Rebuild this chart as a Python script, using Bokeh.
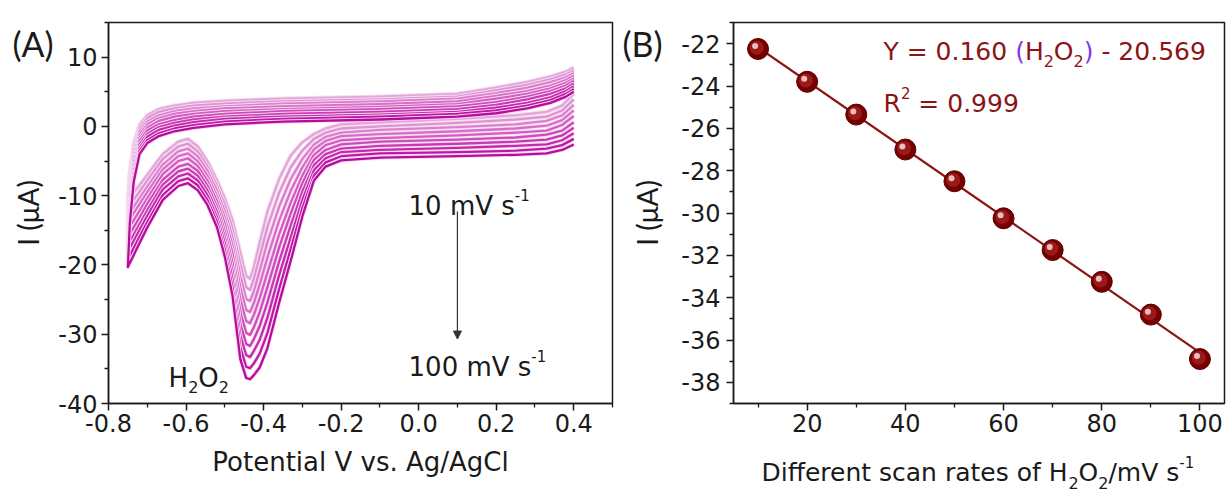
import numpy as np
from bokeh.plotting import figure
from bokeh.models import (Range1d, FixedTicker, PrintfTickFormatter, Label, Arrow,
                          NormalHead, ColumnDataSource)
from bokeh.layouts import row, column
from bokeh.transform import dodge
from bokeh.embed import file_html
from bokeh.resources import INLINE

# ---------------- data: panel A (cyclic voltammograms) ----------------
potential = [0.40, 0.37, 0.33, 0.25, 0.10, -0.10, -0.20, -0.24, -0.27, -0.30, -0.33, -0.36,
             -0.39, -0.41, -0.425, -0.435, -0.445, -0.46, -0.48, -0.50, -0.52, -0.545, -0.57,
             -0.595, -0.62, -0.66, -0.70, -0.73, -0.75,
             -0.745, -0.735, -0.72, -0.70, -0.67, -0.63, -0.58, -0.50, -0.35, -0.10, 0.10,
             0.20, 0.28, 0.34, 0.38, 0.40]

i_10 = [4.7, 3.0, 2.1, 1.6, 1.1, 0.6, 0.3, -0.3, -1.1, -2.3, -4.2, -7.6, -12.3, -16.8, -20.3,
        -22.0, -21.6, -18.2, -13.6, -10.4, -7.8, -5.0, -2.9, -1.8, -2.2, -4.0, -7.0, -9.2, -10.6,
        -6.5, -2.5, 0.2, 1.6, 2.5, 3.0, 3.4, 3.7, 4.0, 4.3, 4.7, 5.6, 6.4, 7.2, 7.9, 8.5]
i_20 = [3.9, 2.3, 1.4, 1.0, 0.5, 0.0, -0.3, -0.9, -1.8, -3.5, -5.9, -9.6, -14.5, -18.8, -22.0,
        -23.6, -23.2, -19.9, -14.8, -11.3, -8.6, -5.7, -3.6, -2.5, -2.9, -4.7, -7.8, -10.2, -11.7,
        -7.3, -3.1, -0.3, 1.2, 2.1, 2.6, 3.0, 3.3, 3.6, 3.9, 4.3, 5.2, 6.0, 6.8, 7.5, 8.1]
i_30 = [3.1, 1.6, 0.8, 0.3, -0.1, -0.5, -0.9, -1.5, -2.6, -4.7, -7.6, -11.6, -16.7, -20.8, -23.8,
        -25.2, -24.9, -21.6, -16.0, -12.3, -9.3, -6.4, -4.3, -3.2, -3.6, -5.5, -8.7, -11.2, -12.8,
        -8.2, -3.7, -0.7, 0.7, 1.6, 2.2, 2.6, 2.9, 3.3, 3.6, 4.0, 4.8, 5.6, 6.4, 7.1, 7.7]
i_40 = [2.3, 0.9, 0.1, -0.3, -0.7, -1.1, -1.4, -2.1, -3.3, -5.9, -9.3, -13.6, -18.9, -22.8, -25.5,
        -26.8, -26.5, -23.3, -17.2, -13.2, -10.1, -7.1, -5.0, -3.9, -4.3, -6.2, -9.5, -12.1, -13.8,
        -9.0, -4.3, -1.2, 0.3, 1.2, 1.8, 2.2, 2.6, 2.9, 3.2, 3.6, 4.4, 5.1, 5.9, 6.7, 7.3]
i_50 = [1.5, 0.2, -0.6, -0.9, -1.3, -1.7, -2.0, -2.7, -4.1, -7.1, -11.0, -15.6, -21.1, -24.8, -27.2,
        -28.4, -28.1, -25.0, -18.4, -14.1, -10.8, -7.8, -5.7, -4.6, -5.0, -6.9, -10.4, -13.1, -14.9,
        -9.8, -4.9, -1.7, -0.2, 0.8, 1.4, 1.8, 2.2, 2.5, 2.8, 3.2, 4.0, 4.7, 5.5, 6.3, 6.9]
i_60 = [0.6, -0.6, -1.2, -1.6, -1.9, -2.2, -2.6, -3.4, -4.8, -8.2, -12.6, -17.5, -23.2, -26.8, -29.0,
        -30.1, -29.8, -26.8, -19.7, -15.1, -11.6, -8.5, -6.4, -5.4, -5.8, -7.7, -11.2, -14.1, -16.0,
        -10.7, -5.6, -2.1, -0.6, 0.3, 0.9, 1.4, 1.8, 2.2, 2.5, 2.9, 3.5, 4.3, 5.1, 5.9, 6.6]
i_70 = [-0.2, -1.3, -1.9, -2.2, -2.5, -2.8, -3.2, -4.0, -5.6, -9.4, -14.3, -19.5, -25.4, -28.8, -30.7,
        -31.7, -31.4, -28.5, -20.9, -16.0, -12.3, -9.2, -7.1, -6.1, -6.5, -8.4, -12.1, -15.1, -17.1,
        -11.5, -6.2, -2.6, -1.1, -0.1, 0.5, 1.0, 1.4, 1.8, 2.1, 2.5, 3.1, 3.9, 4.7, 5.5, 6.2]
i_80 = [-1.0, -2.0, -2.6, -2.8, -3.1, -3.4, -3.7, -4.6, -6.3, -10.6, -16.0, -21.5, -27.6, -30.8, -32.4,
        -33.3, -33.0, -30.2, -22.1, -16.9, -13.1, -9.9, -7.8, -6.8, -7.2, -9.1, -12.9, -16.0, -18.1,
        -12.3, -6.8, -3.1, -1.5, -0.5, 0.1, 0.6, 1.1, 1.4, 1.7, 2.1, 2.7, 3.4, 4.2, 5.1, 5.8]
i_90 = [-1.8, -2.7, -3.2, -3.5, -3.7, -3.9, -4.3, -5.2, -7.1, -11.8, -17.7, -23.5, -29.8, -32.8, -34.2,
        -34.9, -34.7, -31.9, -23.3, -17.9, -13.8, -10.6, -8.5, -7.5, -7.9, -9.9, -13.8, -17.0, -19.2,
        -13.2, -7.4, -3.5, -2.0, -1.0, -0.3, 0.2, 0.7, 1.1, 1.4, 1.8, 2.3, 3.0, 3.8, 4.7, 5.4]
i_100 = [-2.6, -3.4, -3.9, -4.1, -4.3, -4.5, -4.9, -5.8, -7.8, -13.0, -19.4, -25.5, -32.0, -34.8, -35.9,
         -36.5, -36.3, -33.6, -24.5, -18.8, -14.6, -11.3, -9.2, -8.2, -8.6, -10.6, -14.6, -18.0, -20.3,
         -14.0, -8.0, -4.0, -2.4, -1.4, -0.7, -0.2, 0.3, 0.7, 1.0, 1.4, 1.9, 2.6, 3.4, 4.3, 5.0]

cv_curves = [i_10, i_20, i_30, i_40, i_50, i_60, i_70, i_80, i_90, i_100]

a_xticks = [-0.8, -0.6, -0.4, -0.2, 0.0, 0.2, 0.4]
a_xminor = [-0.7, -0.5, -0.3, -0.1, 0.1, 0.3, 0.5]
a_yticks = [-40, -30, -20, -10, 0, 10]
a_yminor = [-35, -25, -15, -5, 5, 15]

# ---------------- data: panel B (peak current vs scan rate) ----------------
scan_rate = [10, 20, 30, 40, 50, 60, 70, 80, 90, 100]
peak_current = [-22.25, -23.8, -25.35, -27.0, -28.5, -30.25, -31.75, -33.25, -34.8, -36.9]

b_xticks = [20, 40, 60, 80, 100]
b_xminor = [10, 30, 50, 70, 90]
b_yticks = [-38, -36, -34, -32, -30, -28, -26, -24, -22]
b_yminor = [-39, -37, -35, -33, -31, -29, -27, -25, -23, -21]

# ---------------- styles ----------------
FONT = "DejaVu Sans"
TAGFONT = "Lato"
INK = "#1a1a1a"
DARKRED = "#8b1414"
PURPLE = "#8338ec"
CV_COLORS = ["#e2a6da", "#df93d4", "#dc80ce", "#d86ec8", "#d45cc2",
             "#cf4abb", "#ca39b4", "#c528ad", "#bf18a6", "#b80a9f"]

ADV = {" ": .318, "(": .390, ")": .390, "-": .361, ".": .318, "/": .337, "=": .838,
       "A": .684, "B": .686, "C": .698, "D": .770, "H": .752, "I": .295, "O": .787,
       "P": .603, "R": .695, "V": .684, "Y": .611, "a": .613, "c": .550, "e": .615,
       "f": .352, "g": .635, "i": .278, "l": .278, "m": .974, "n": .634, "o": .612,
       "r": .411, "s": .521, "t": .392, "v": .592}


def text_width(s, size):
    return sum(ADV.get(ch, .636) for ch in s) * size


def rich(p, x, y, pieces, font=FONT):
    off = 0.0
    for txt, size, color, dy in pieces:
        lead = len(txt) - len(txt.lstrip(" "))
        off += text_width(" " * lead, size)
        core = txt.strip(" ")
        p.add_layout(Label(x=x, y=y, x_offset=off, y_offset=dy, text=core,
                           text_font=font, text_font_size=f"{size}px",
                           text_color=color, text_align="left",
                           text_baseline="alphabetic"))
        trail = len(txt) - len(txt.rstrip(" ")) if core else 0
        off += text_width(core, size) + text_width(" " * trail, size)


def style_axes(p, xt, xm, yt, ym, xfmt, yfmt, xstand, ystand):
    p.xaxis.ticker = FixedTicker(ticks=xt, minor_ticks=xm)
    p.yaxis.ticker = FixedTicker(ticks=yt, minor_ticks=ym)
    p.xaxis.formatter = PrintfTickFormatter(format=xfmt)
    p.yaxis.formatter = PrintfTickFormatter(format=yfmt)
    for ax in (p.xaxis, p.yaxis):
        ax.axis_line_color = INK
        ax.axis_line_width = 1.5
        ax.major_tick_line_color = INK
        ax.major_tick_line_width = 1.5
        ax.minor_tick_line_color = INK
        ax.minor_tick_line_width = 1.3
        ax.major_tick_out = 7
        ax.major_tick_in = 0
        ax.minor_tick_out = 4
        ax.minor_tick_in = 0
        ax.major_label_text_font = FONT
        ax.major_label_text_font_size = "24px"
        ax.major_label_text_color = INK
        ax.axis_label_text_color = INK
        ax.axis_label_text_font_style = "normal"
    p.xaxis.major_label_standoff = xstand
    p.yaxis.major_label_standoff = ystand
    p.xaxis.axis_label_text_font = FONT
    p.xaxis.axis_label_text_font_size = "26px"
    p.yaxis.axis_label_text_font = TAGFONT
    p.yaxis.axis_label_text_font_size = "28px"
    p.xgrid.visible = False
    p.ygrid.visible = False
    p.outline_line_color = INK
    p.outline_line_width = 1.5
    p.background_fill_color = "white"
    p.border_fill_color = "white"


# ---------------- panel A ----------------
pA = figure(width=620, height=491, output_backend="svg", toolbar_location=None,
            x_range=Range1d(-0.8, 0.5), y_range=Range1d(-40, 15),
            min_border_left=108, min_border_right=8, min_border_top=20, min_border_bottom=88)
style_axes(pA, a_xticks, a_xminor, a_yticks, a_yminor, "%.1f", "%d", 3, 4)
pA.xaxis.axis_label = "Potential V vs. Ag/AgCl"
pA.xaxis.axis_label_standoff = 12
pA.yaxis.axis_label = "I (μA)"
pA.yaxis.axis_label_standoff = 10

for cur, col in zip(cv_curves, CV_COLORS):
    pA.line(potential, cur, line_color="#f6dcf1", line_width=4.2, line_join="round")
    pA.line(potential, cur, line_color=col, line_width=2.3, line_join="round")

pA.add_layout(Arrow(end=NormalHead(size=8, line_color="#333333", fill_color="#333333", line_width=1),
                    x_start=0.1, y_start=-12.3, x_end=0.1, y_end=-30.7,
                    line_color="#333333", line_width=1.2))

rich(pA, -0.026, -11.42, [("10 mV s", 26, INK, 0), ("-1", 15, INK, 11)])
rich(pA, -0.026, -34.68, [("100 mV s", 26, INK, 0), ("-1", 15, INK, 11)])
rich(pA, -0.645, -36.26, [("H", 26, INK, 0), ("2", 16, INK, -9), ("O", 26, INK, 0), ("2", 16, INK, -9)])

# ---------------- panel B ----------------
pB = figure(width=608, height=491, output_backend="svg", toolbar_location=None,
            x_range=Range1d(5, 105), y_range=Range1d(-39, -21),
            min_border_left=113, min_border_right=4, min_border_top=22, min_border_bottom=83)
style_axes(pB, b_xticks, b_xminor, b_yticks, b_yminor, "%d", "%d", 3, 6)
pB.yaxis.axis_label = "I (μA)"
pB.yaxis.axis_label_standoff = 14

slope, intercept = np.polyfit(scan_rate, peak_current, 1)
fit_x = [scan_rate[0], scan_rate[-1]]
fit_y = [slope * v + intercept for v in fit_x]
pB.line(fit_x, fit_y, line_color=DARKRED, line_width=2.2)

src = ColumnDataSource(dict(x=scan_rate, y=peak_current))
pB.scatter("x", "y", source=src, size=21, fill_color="#760000", line_color="#5a0000", line_width=1)
pB.scatter(dodge("x", -0.25, range=pB.x_range), dodge("y", 0.06, range=pB.y_range), source=src,
           size=14, fill_color="#9a1a1a", line_color=None)
pB.scatter(dodge("x", -0.6, range=pB.x_range), dodge("y", 0.14, range=pB.y_range), source=src,
           size=6, fill_color="#f3d2d2", line_color=None, fill_alpha=0.9)

rich(pB, 35.55, -22.35, [("Y = 0.160 ", 25, DARKRED, 0), ("(", 25, PURPLE, 0), ("H", 25, DARKRED, 0),
                         ("2", 16, DARKRED, -10), ("O", 25, DARKRED, 0), ("2", 16, DARKRED, -10),
                         (")", 25, PURPLE, 0), (" - 20.569", 25, DARKRED, 0)])
rich(pB, 35.55, -24.82, [("R", 25, DARKRED, 0), ("2", 15, DARKRED, 10), (" = 0.999", 25, DARKRED, 0)])

# ---------------- transparent text layer (page pixel coordinates, y downward) ----------------
ov = figure(width=1228, height=491, output_backend="svg", toolbar_location=None,
            x_range=Range1d(0, 1228), y_range=Range1d(491, 0),
            x_axis_type=None, y_axis_type=None, min_border=0,
            outline_line_color=None, background_fill_color=None, border_fill_color=None,
            margin=(-491, 0, 0, 0))
ov.xgrid.visible = False
ov.ygrid.visible = False

ov.add_layout(Label(x=12, y=43, text="(A)", text_font=TAGFONT, text_font_size="34px",
                    text_color=INK, text_align="left", text_baseline="alphabetic"))
ov.add_layout(Label(x=622, y=43, text="(B)", text_font=TAGFONT, text_font_size="34px",
                    text_color=INK, text_align="left", text_baseline="alphabetic"))
rich(ov, 761, 472, [("Different scan rates of H", 25, INK, 0), ("2", 16, INK, -10),
                    ("O", 25, INK, 0), ("2", 16, INK, -10), ("/mV s", 25, INK, 0),
                    ("-1", 15, INK, 11)])

layout = column(row(pA, pB), ov)
open("out.html", "w").write(file_html(layout, INLINE))
